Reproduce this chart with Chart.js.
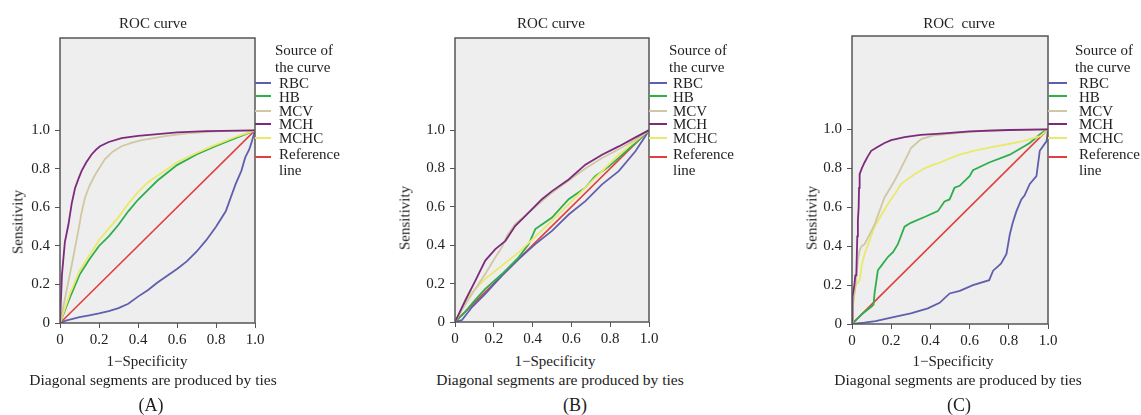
<!DOCTYPE html>
<html lang="en">
<head>
  <meta charset="UTF-8" />
  <title>ROC curves</title>
  <script src="https://cdn.jsdelivr.net/npm/chart.js"></script>
  <style>
    body { margin: 0; background: #fff; width: 1141px; height: 415px; overflow: hidden; position: relative;
           font-family: "Liberation Serif", "DejaVu Serif", serif; color: #222; }
    canvas { position: absolute; }
    .t { position: absolute; white-space: nowrap; transform: translate(-50%, -50%); font-size: 15px; line-height: 1; }
    .l { position: absolute; white-space: nowrap; transform: translateY(-50%); font-size: 15px; line-height: 1; }
    .sw { position: absolute; height: 2px; }
  </style>
</head>
<body>

<script>
  // tick labels shared by all panels
  const tickValues = [0, 0.2, 0.4, 0.6, 0.8, 1.0];
  const seriesNames = ['RBC', 'HB', 'MCV', 'MCH', 'MCHC'];
  const colors = ['#5f5fae', '#2fae4c', '#cfc8a2', '#7d2a7d', '#e9e96a'];
  const refColor = '#e0403f';

  // panel (A): [1-specificity, sensitivity]
  const A_RBC = [[0,0],[0.03,0.012],[0.05,0.017],[0.1,0.03],[0.15,0.04],[0.2,0.05],[0.25,0.062],[0.3,0.077],[0.35,0.1],[0.4,0.137],[0.45,0.17],[0.5,0.21],[0.55,0.245],[0.6,0.28],[0.65,0.32],[0.7,0.37],[0.75,0.43],[0.8,0.5],[0.85,0.58],[0.9,0.72],[0.93,0.79],[0.95,0.86],[0.97,0.9],[0.98,0.93],[1,1]];
  const A_HB = [[0,0],[0.05,0.13],[0.1,0.25],[0.15,0.33],[0.2,0.4],[0.25,0.45],[0.3,0.51],[0.35,0.58],[0.4,0.64],[0.45,0.69],[0.5,0.74],[0.6,0.82],[0.7,0.875],[0.8,0.92],[0.9,0.96],[1,1]];
  const A_MCV = [[0,0],[0.02,0.1],[0.04,0.2],[0.06,0.3],[0.075,0.38],[0.094,0.48],[0.11,0.57],[0.128,0.65],[0.15,0.71],[0.18,0.77],[0.205,0.81],[0.23,0.85],[0.27,0.89],[0.316,0.918],[0.37,0.937],[0.42,0.95],[0.54,0.97],[0.65,0.985],[0.8,0.995],[1,1]];
  const A_MCH = [[0,0],[0.01,0.25],[0.025,0.42],[0.043,0.51],[0.06,0.62],[0.077,0.7],[0.095,0.75],[0.111,0.79],[0.135,0.835],[0.162,0.875],[0.185,0.9],[0.205,0.918],[0.25,0.94],[0.316,0.96],[0.4,0.972],[0.487,0.98],[0.6,0.99],[0.75,0.996],[1,1]];
  const A_MCHC = [[0,0],[0.05,0.15],[0.1,0.27],[0.15,0.35],[0.2,0.43],[0.25,0.49],[0.3,0.55],[0.35,0.62],[0.4,0.68],[0.45,0.73],[0.5,0.765],[0.6,0.835],[0.7,0.883],[0.8,0.926],[0.9,0.966],[1,1]];

  // panel (B)
  const B_RBC = [[0,0],[0.036,0.01],[0.088,0.078],[0.156,0.147],[0.242,0.242],[0.328,0.328],[0.414,0.406],[0.5,0.475],[0.586,0.56],[0.672,0.63],[0.758,0.717],[0.844,0.786],[0.93,0.89],[0.98,0.967],[1,1]];
  const B_HB = [[0,0],[0.05,0.05],[0.1,0.11],[0.156,0.173],[0.242,0.25],[0.328,0.337],[0.38,0.406],[0.414,0.484],[0.5,0.544],[0.586,0.64],[0.672,0.7],[0.723,0.76],[0.792,0.81],[0.844,0.855],[0.93,0.933],[1,1]];
  const B_MCV = [[0,0],[0.04,0.07],[0.088,0.147],[0.156,0.25],[0.208,0.337],[0.242,0.39],[0.268,0.45],[0.31,0.51],[0.414,0.6],[0.5,0.674],[0.586,0.737],[0.672,0.8],[0.758,0.855],[0.844,0.9],[0.93,0.95],[1,1]];
  const B_MCH = [[0,0],[0.053,0.112],[0.105,0.216],[0.156,0.32],[0.208,0.38],[0.26,0.423],[0.31,0.5],[0.363,0.553],[0.448,0.64],[0.5,0.682],[0.586,0.743],[0.672,0.82],[0.758,0.872],[0.844,0.915],[0.93,0.962],[1,1]];
  const B_MCHC = [[0,0],[0.04,0.08],[0.088,0.155],[0.156,0.225],[0.328,0.363],[0.5,0.527],[0.672,0.7],[0.844,0.872],[1,1]];

  // panel (C)
  const C_RBC = [[0,0],[0.064,0.007],[0.12,0.015],[0.217,0.037],[0.3,0.055],[0.387,0.08],[0.447,0.109],[0.498,0.157],[0.55,0.17],[0.617,0.2],[0.7,0.225],[0.72,0.274],[0.76,0.31],[0.788,0.36],[0.805,0.46],[0.82,0.52],[0.839,0.58],[0.864,0.64],[0.88,0.66],[0.907,0.72],[0.941,0.76],[0.958,0.89],[0.993,0.94],[1,1]];
  const C_HB = [[0,0],[0.05,0.05],[0.1,0.09],[0.11,0.1],[0.115,0.157],[0.132,0.276],[0.15,0.3],[0.183,0.344],[0.21,0.37],[0.234,0.41],[0.268,0.5],[0.3,0.52],[0.37,0.55],[0.438,0.58],[0.472,0.63],[0.498,0.64],[0.523,0.7],[0.549,0.71],[0.6,0.76],[0.617,0.79],[0.7,0.83],[0.805,0.87],[0.907,0.93],[0.958,0.974],[0.98,0.99],[1,1]];
  const C_MCV = [[0,0],[0,0.07],[0.005,0.09],[0.013,0.16],[0.02,0.22],[0.03,0.33],[0.039,0.38],[0.05,0.4],[0.064,0.41],[0.09,0.46],[0.115,0.51],[0.14,0.58],[0.166,0.65],[0.19,0.69],[0.217,0.736],[0.24,0.78],[0.26,0.82],[0.28,0.86],[0.302,0.906],[0.33,0.93],[0.353,0.95],[0.42,0.97],[0.52,0.98],[0.7,0.995],[1,1]];
  const C_MCH = [[0,0],[0,0.14],[0.005,0.14],[0.012,0.2],[0.017,0.25],[0.022,0.25],[0.027,0.45],[0.03,0.53],[0.034,0.6],[0.036,0.7],[0.039,0.77],[0.05,0.8],[0.064,0.83],[0.08,0.86],[0.098,0.89],[0.13,0.91],[0.166,0.93],[0.2,0.945],[0.268,0.96],[0.35,0.972],[0.47,0.98],[0.6,0.99],[0.8,0.997],[1,1]];
  const C_MCHC = [[0,0],[0.005,0.1],[0.02,0.2],[0.039,0.225],[0.05,0.3],[0.064,0.36],[0.09,0.43],[0.115,0.5],[0.15,0.56],[0.183,0.617],[0.22,0.67],[0.251,0.72],[0.319,0.77],[0.37,0.8],[0.42,0.82],[0.45,0.83],[0.52,0.86],[0.549,0.87],[0.62,0.89],[0.7,0.906],[0.8,0.925],[0.873,0.94],[0.96,0.965],[1,1]];

  const refLine = [[0,0],[1,1]];

  // plot box in page pixels + text spots
  const panels = [
    { box: [60, 255, 36, 323], series: [A_RBC, A_HB, A_MCV, A_MCH, A_MCHC], tag: '(A)', title: 'ROC curve',
      titleX: 153, sensX: 18, sensY: 222, xlabX: 147, diagX: 153, tagX: 151, swL: 255, swW: 16, txtX: 279 },
    { box: [455, 649, 36, 322], series: [B_RBC, B_HB, B_MCV, B_MCH, B_MCHC], tag: '(B)', title: 'ROC curve',
      titleX: 551, sensX: 405, sensY: 218, xlabX: 555, diagX: 560, tagX: 575, swL: 649, swW: 18, txtX: 673 },
    { box: [852, 1048, 34, 324], series: [C_RBC, C_HB, C_MCV, C_MCH, C_MCHC], tag: '(C)', title: 'ROC\u00a0\u00a0curve',
      titleX: 959, sensX: 812, sensY: 218, xlabX: 953, diagX: 958, tagX: 959, swL: 1048, swW: 19, txtX: 1079 }
  ];

  const legendRows = [82.5, 96.5, 110.5, 124, 137.5];
  const swatchRows = [82.7, 96.2, 110.7, 123.5, 138.3];

  function addText(txt, x, y, cls, extra) {
    const d = document.createElement('div');
    d.className = cls;
    d.textContent = txt;
    d.style.left = x + 'px';
    d.style.top = y + 'px';
    if (extra) Object.assign(d.style, extra);
    document.body.appendChild(d);
  }

  const boxPlugin = {
    id: 'box',
    beforeDatasetsDraw(chart) {
      const a = chart.chartArea, c = chart.ctx;
      c.save();
      c.fillStyle = '#efeeef';
      c.fillRect(a.left, a.top, a.right - a.left, a.bottom - a.top);
      c.restore();
    },
    afterDatasetsDraw(chart) {
      const a = chart.chartArea, c = chart.ctx;
      c.save();
      c.strokeStyle = '#555';
      c.lineWidth = 1.5;
      c.strokeRect(a.left, a.top, a.right - a.left, a.bottom - a.top);
      c.restore();
    }
  };

  const fixTicks = scale => { scale.ticks = tickValues.map(v => ({ value: v })); };
  const fmt = v => v === 0 ? '0' : v.toFixed(1);
  const PT = 12, PR = 14;

  panels.forEach(p => {
    const [L, R, T, B] = p.box;
    const cv = document.createElement('canvas');
    const w = R - L + 50 + PR, h = B - T + PT + 30;
    cv.width = w; cv.height = h;
    cv.style.left = (L - 50) + 'px';
    cv.style.top = (T - PT) + 'px';
    document.body.appendChild(cv);

    const ds = p.series.map((s, i) => ({
      label: seriesNames[i],
      data: s.map(pt => ({ x: pt[0], y: pt[1] })),
      borderColor: colors[i],
      borderWidth: 1.8,
      pointRadius: 0,
      tension: 0,
      order: [4, 3, 1, 0, 2][i]
    }));
    ds.push({ label: 'Reference line', data: refLine.map(pt => ({ x: pt[0], y: pt[1] })),
      borderColor: refColor, borderWidth: 1.6, pointRadius: 0, order: 5 });

    new Chart(cv, {
      type: 'line',
      data: { datasets: ds },
      plugins: [boxPlugin],
      options: {
        responsive: false,
        animation: false,
        layout: { padding: { top: PT, right: PR, left: 0, bottom: 0 } },
        plugins: { legend: { display: false }, tooltip: { enabled: false } },
        scales: {
          x: {
            type: 'linear', min: 0, max: 1,
            afterBuildTicks: fixTicks,
            afterFit: s => { s.height = 30; },
            grid: { drawOnChartArea: false, tickLength: 5, color: '#555' },
            border: { display: false },
            ticks: { callback: fmt, padding: 3, maxRotation: 0, autoSkip: false,
              color: '#222', font: { family: 'Liberation Serif', size: 15 } }
          },
          y: {
            type: 'linear', min: 0, max: 1.48,
            afterBuildTicks: fixTicks,
            afterFit: s => { s.width = 50; },
            grid: { drawOnChartArea: false, tickLength: 5, color: '#555' },
            border: { display: false },
            ticks: { callback: fmt, padding: 5, autoSkip: false,
              color: '#222', font: { family: 'Liberation Serif', size: 15 } }
          }
        }
      }
    });

    addText(p.title, p.titleX, 23, 't');
    addText('Sensitivity', p.sensX, p.sensY, 't', { transform: 'translate(-50%,-50%) rotate(-90deg)' });
    addText('1\u2212Specificity', p.xlabX, 361, 't');
    addText('Diagonal segments are produced by ties', p.diagX, 380, 't', { fontSize: '15.5px' });
    addText(p.tag, p.tagX, 405, 't', { fontSize: '18px' });

    // legend
    addText('Source of', p.txtX - 4, 50, 'l');
    addText('the curve', p.txtX - 4, 66.5, 'l');
    seriesNames.forEach((n, i) => {
      addText(n, p.txtX, legendRows[i], 'l');
      const sw = document.createElement('div');
      sw.className = 'sw';
      Object.assign(sw.style, { left: p.swL + 'px', width: p.swW + 'px', top: (swatchRows[i] - 1) + 'px', background: colors[i] });
      document.body.appendChild(sw);
    });
    addText('Reference', p.txtX, 154, 'l');
    addText('line', p.txtX, 169.5, 'l');
    const sw = document.createElement('div');
    sw.className = 'sw';
    Object.assign(sw.style, { left: p.swL + 'px', width: p.swW + 'px', top: '156.3px', background: refColor });
    document.body.appendChild(sw);
  });
</script>

</body>
</html>
